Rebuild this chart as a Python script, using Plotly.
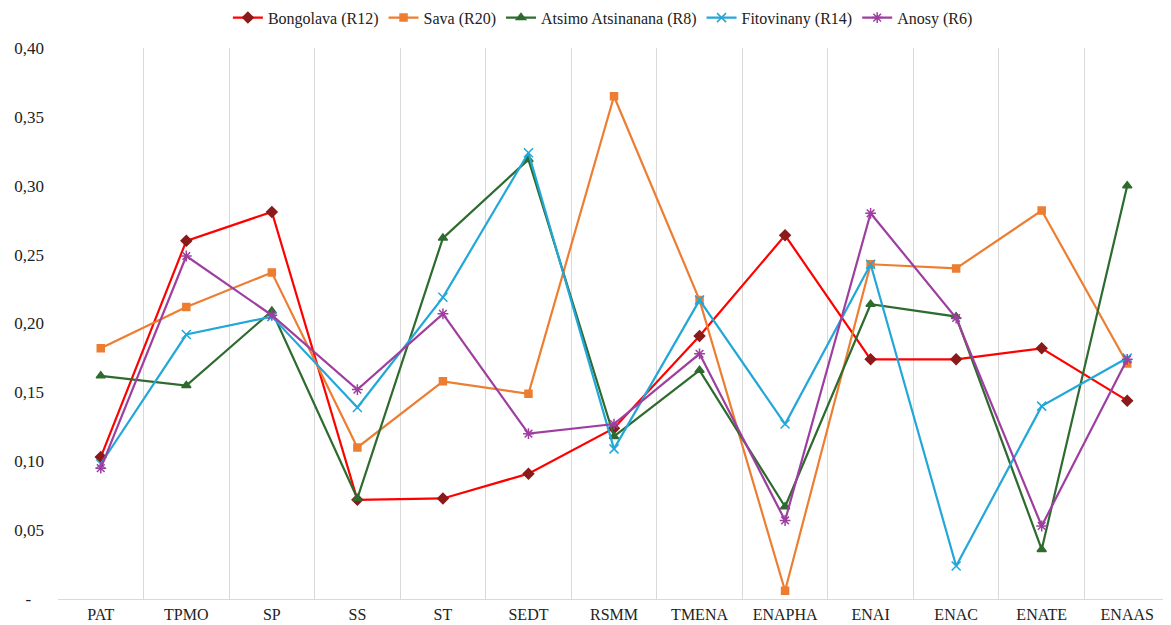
import plotly.graph_objects as go

categories = ['PAT', 'TPMO', 'SP', 'SS', 'ST', 'SEDT', 'RSMM', 'TMENA',
              'ENAPHA', 'ENAI', 'ENAC', 'ENATE', 'ENAAS']

bongolava = [0.103, 0.260, 0.281, 0.072, 0.073, 0.091, 0.124, 0.191, 0.264, 0.174, 0.174, 0.182, 0.144]
sava = [0.182, 0.212, 0.237, 0.110, 0.158, 0.149, 0.365, 0.217, 0.006, 0.243, 0.240, 0.282, 0.171]
atsimo = [0.162, 0.155, 0.209, 0.073, 0.262, 0.319, 0.118, 0.166, 0.067, 0.214, 0.205, 0.036, 0.300]
fitovinany = [0.098, 0.192, 0.205, 0.139, 0.219, 0.324, 0.109, 0.217, 0.127, 0.243, 0.024, 0.140, 0.175]
anosy = [0.095, 0.249, 0.206, 0.152, 0.207, 0.120, 0.127, 0.178, 0.057, 0.280, 0.204, 0.053, 0.174]

y_ticks = [0, 0.05, 0.10, 0.15, 0.20, 0.25, 0.30, 0.35, 0.40]
# accounting style: zero shown as a dash, padded left of the numbers
y_labels = ['-\u00a0\u00a0\u00a0', '0,05', '0,10', '0,15', '0,20', '0,25', '0,30', '0,35', '0,40']

series = [
    ('Bongolava (R12)', bongolava, '#FF0000', '#8B1A1A', 'diamond', 8),
    ('Sava (R20)', sava, '#ED7D31', '#ED7D31', 'square', 7),
    ('Atsimo Atsinanana (R8)', atsimo, '#2E6B2E', '#2E6B2E', 'triangle-up', 8),
    ('Fitovinany (R14)', fitovinany, '#22A7D8', '#22A7D8', 'x-thin-open', 9),
    ('Anosy (R6)', anosy, '#9E3FA0', '#9E3FA0', 'asterisk-open', 9),
]

fig = go.Figure()
for name, vals, line_col, mk_col, symbol, size in series:
    fig.add_trace(go.Scatter(
        x=categories, y=vals, name=name, mode='lines+markers',
        line=dict(color=line_col, width=2.2),
        marker=dict(symbol=symbol, size=size, color=mk_col,
                    line=dict(color=mk_col, width=1.5)),
    ))

# page has an 8px body margin, so the figure is sized to end at the window edge
fig.update_layout(
    width=1163, height=617,
    margin=dict(l=50, r=1, t=40, b=26, autoexpand=False),
    plot_bgcolor='white', paper_bgcolor='white',
    font=dict(family='Liberation Serif, DejaVu Serif, serif', size=17, color='#222222'),
    legend=dict(orientation='h', x=0.49, xanchor='center', y=1.055, yanchor='middle',
                font=dict(size=16), itemwidth=30, tracegroupgap=0),
    showlegend=True,
)
fig.update_xaxes(
    tickson='boundaries', showgrid=True, gridcolor='#D9D9D9', gridwidth=1,
    showline=True, linecolor='#D9D9D9', ticks='', ticklabelstandoff=1,
    tickfont=dict(size=16),
    range=[-0.5, 12.5], automargin=False,
)
fig.update_yaxes(
    range=[0, 0.4], tickvals=y_ticks, ticktext=y_labels,
    showgrid=False, zeroline=False, showline=False, ticks='',
    ticklabelstandoff=13, automargin=False,
)

fig.write_html("out.html")
